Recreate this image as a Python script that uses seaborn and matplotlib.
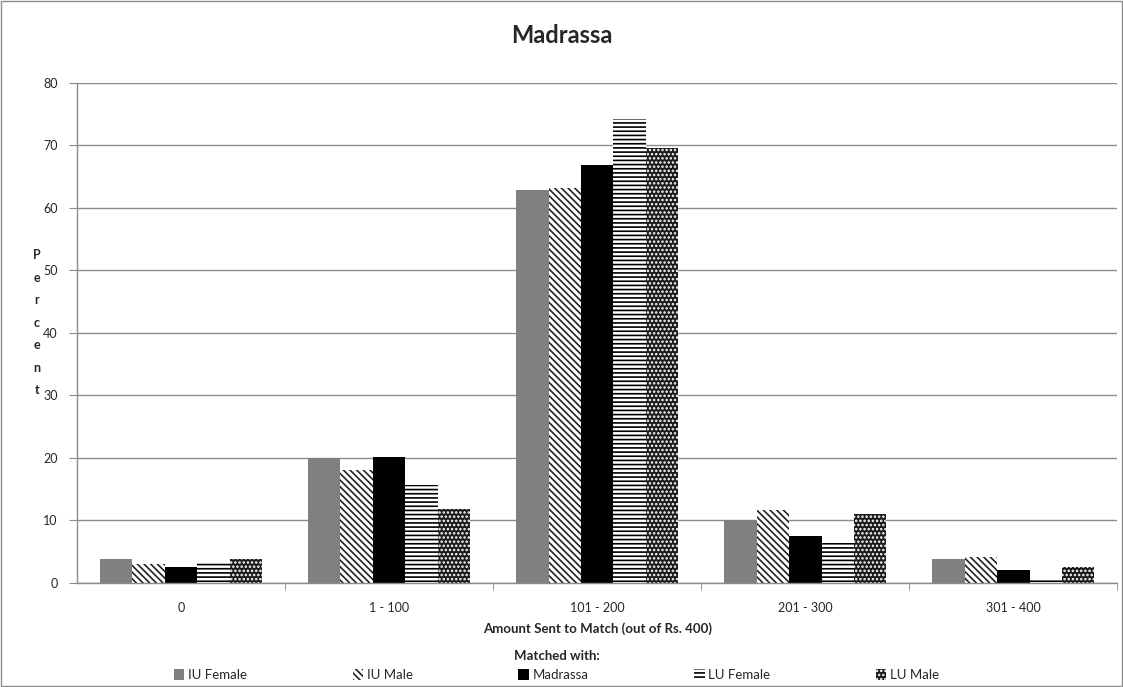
import matplotlib
matplotlib.use("Agg")
import matplotlib.pyplot as plt
import seaborn as sns
import pandas as pd
import numpy as np
from matplotlib.patches import Rectangle, Patch
from matplotlib.ticker import FixedLocator

categories = ["0", "1 - 100", "101 - 200", "201 - 300", "301 - 400"]
groups = ["IU Female", "IU Male", "Madrassa", "LU Female", "LU Male"]
iu_female = [3.8, 20.0, 62.9, 10.0, 3.9]
iu_male = [3.1, 18.1, 63.2, 11.6, 4.1]
madrassa = [2.6, 20.1, 66.8, 7.5, 2.0]
lu_female = [3.2, 15.7, 74.3, 6.4, 0.5]
lu_male = [3.8, 11.9, 69.6, 11.1, 2.6]
y_ticks = [0, 10, 20, 30, 40, 50, 60, 70, 80]

series = [iu_female, iu_male, madrassa, lu_female, lu_male]
df = pd.DataFrame({
    "Amount": [c for s in series for c in categories],
    "Percent": [v for s in series for v in s],
    "Group": [g for g, s in zip(groups, series) for _ in s],
})

sns.set_style("white")
plt.rcParams['font.family'] = ['Lato', 'DejaVu Sans']
plt.rcParams['hatch.linewidth'] = 1.2

fig = plt.figure(figsize=(11.23, 6.87), dpi=100)
ax = fig.add_axes([0.0686, 0.1514, 0.9264, 0.7278])

face = ["#808080", "white", "black", "white", "#1a1a1a"]
hatch_edge = ["#808080", "#222222", "black", "black", "white"]
hatches = [None, "\\\\\\\\\\", None, "----", "...."]

sns.barplot(data=df, x="Amount", y="Percent", hue="Group", order=categories,
            hue_order=groups, palette=face, width=0.78, gap=0,
            legend=False, ax=ax, saturation=1)

for i, cont in enumerate(ax.containers):
    for p in cont.patches:
        p.set_facecolor(face[i])
        p.set_edgecolor(hatch_edge[i])
        p.set_linewidth(0)
        if hatches[i]:
            p.set_hatch(hatches[i])

ax.set_xlim(-0.5, 4.5)
ax.set_ylim(0, 80)
ax.set_yticks(y_ticks)
ax.yaxis.grid(True, color="#8c8c8c", linewidth=1.0)
ax.set_axisbelow(True)
for s in ["top", "right"]:
    ax.spines[s].set_visible(False)
for s in ["left", "bottom"]:
    ax.spines[s].set_color("#8c8c8c")
    ax.spines[s].set_linewidth(1.0)

ax.tick_params(axis="y", which="major", length=6, color="#8c8c8c", direction="out",
               labelsize=9, pad=8, left=True)
ax.tick_params(axis="x", which="major", length=0, labelsize=9, pad=14)
ax.xaxis.set_minor_locator(FixedLocator([0.5, 1.5, 2.5, 3.5, 4.5]))
ax.tick_params(axis="x", which="minor", length=5, color="#8c8c8c", direction="out", bottom=True)

ax.set_xlabel("Amount Sent to Match (out of Rs. 400)", fontsize=9.5, fontweight="bold", labelpad=6)
ax.set_ylabel("")
fig.text(0.033, 0.530, "P\ne\nr\nc\ne\nn\nt", ha="center", va="center",
         fontsize=9, fontweight="bold", linespacing=2.05)

fig.suptitle("Madrassa", x=0.5, y=0.965, fontsize=17, fontweight="bold")

handles = [Patch(facecolor=face[i], edgecolor=hatch_edge[i], hatch=hatches[i], linewidth=0)
           for i in range(5)]
leg = fig.legend(handles, groups, loc="lower center", bbox_to_anchor=(0.4957, 0.0), ncol=5,
                 frameon=False, fontsize=9.5, title="Matched with:",
                 title_fontproperties={"weight": "bold", "size": 9.5},
                 handlelength=0.8, handleheight=0.8, handletextpad=0.3,
                 columnspacing=7.97, borderaxespad=0.05)
leg._legend_box.align = "center"

fig.patches.append(Rectangle((0.001, 0.001), 0.998, 0.997, transform=fig.transFigure,
                             fill=False, edgecolor="#8c8c8c", linewidth=1.0))

fig.savefig("out.png", dpi=100)
